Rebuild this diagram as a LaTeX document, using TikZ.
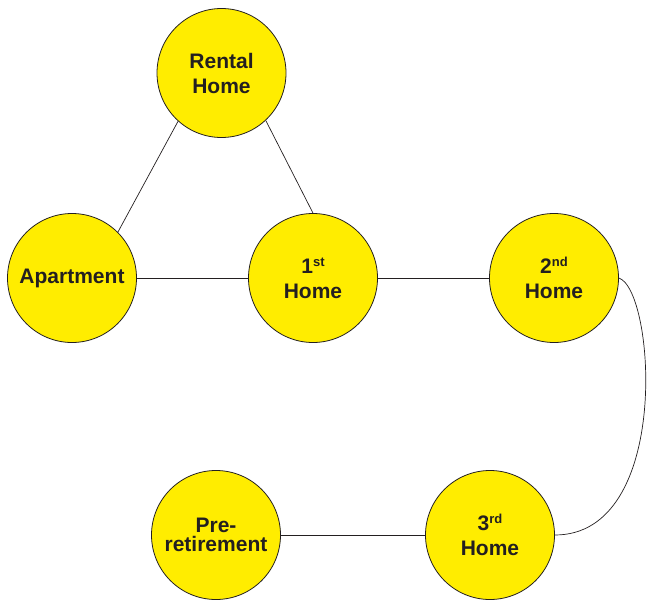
\documentclass[tikz,border=0pt]{standalone}
\usepackage{fontspec}
\setmainfont{Liberation Sans}
\usepackage{tikz}
\definecolor{stageyellow}{HTML}{FFED00}
\definecolor{inkgray}{HTML}{231F20}
\newcommand{\ordsup}[1]{\raisebox{7pt}{\fontsize{13}{13}\selectfont #1}}
\tikzset{
  stage/.style={draw=inkgray, line width=0.8pt, circle, fill=stageyellow, minimum size=129pt, inner sep=0pt,
    align=center, text=inkgray, font=\fontsize{21}{25}\selectfont\bfseries},
  link/.style={draw=inkgray, line width=0.7pt}
}
\begin{document}
\begin{tikzpicture}[x=1pt, y=-1pt]
				\useasboundingbox (0,0) rectangle (647,599);
				\node[stage] (rental)at(221.5, 73) {Rental\\Home};
				\node[stage] (apartment)at(72, 278) {Apartment};
				\node[stage] (first)at(313, 278) {1\ordsup{st}\\Home};
				\node[stage] (second)at(554, 278) {2\ordsup{nd}\\Home};
				\node[stage] (third)at(490, 535) {3\ordsup{rd}\\Home};
				\node[stage] (preret)at(216, 535) {Pre-\\[-6pt]retirement};
				\draw[link] (rental.228) -- (apartment.45);
				\draw[link] (rental.-47) -- (first.north);
				\draw[link] (apartment) -- (first);
				\draw[link] (first) -- (second);
				\draw[link] (preret) -- (third);
				\draw[link] (second.east) .. controls (655, 290) and (672, 535) .. (third.east);
			\end{tikzpicture}
\end{document}
